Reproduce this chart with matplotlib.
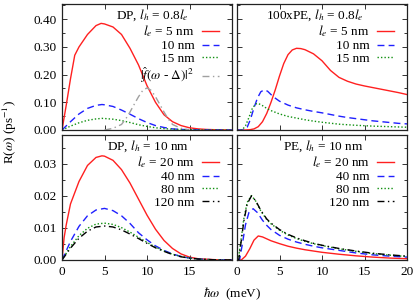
import numpy as np
import matplotlib
matplotlib.use("Agg")
import matplotlib.pyplot as plt
from matplotlib.ticker import MultipleLocator, FormatStrFormatter

plt.rcParams['font.family'] = ['Liberation Serif', 'DejaVu Serif']
plt.rcParams['mathtext.fontset'] = 'stix'
plt.rcParams['font.size'] = 9.5

# ---- top left: DP, l_h = 0.8 l_e
dp_e5_x = [0, 0.5, 1, 1.5, 2, 3, 4, 4.6, 5, 6, 7, 8, 9, 10, 11, 12, 13, 14, 15, 16, 17, 18, 20]
dp_e5_y = [0, 0.09, 0.185, 0.27, 0.30, 0.345, 0.377, 0.385, 0.383, 0.372, 0.345, 0.295, 0.235,
           0.16, 0.10, 0.055, 0.03, 0.016, 0.008, 0.004, 0.002, 0.001, 0]
dp_e10_x = [0, 1, 2, 3, 4, 4.7, 5, 6, 7, 8, 9, 10, 11, 12, 13, 14, 16, 20]
dp_e10_y = [0, 0.03, 0.058, 0.078, 0.089, 0.092, 0.091, 0.085, 0.072, 0.057, 0.041, 0.027,
            0.016, 0.009, 0.004, 0.002, 0.0005, 0]
dp_e15_x = [0, 1, 2, 3, 4, 4.7, 5, 6, 7, 8, 9, 10, 11, 12, 13, 14, 16, 20]
dp_e15_y = [0, 0.014, 0.026, 0.035, 0.040, 0.042, 0.0415, 0.039, 0.034, 0.027, 0.019, 0.013,
            0.008, 0.005, 0.003, 0.0015, 0.0004, 0]
ff_x = [5, 6, 7, 7.5, 8, 8.5, 9, 9.5, 10, 10.5, 11, 11.5, 12, 12.5, 13, 14, 15]
ff_y = [0, 0.006, 0.02, 0.04, 0.065, 0.093, 0.12, 0.143, 0.152, 0.143, 0.12, 0.093, 0.065,
        0.04, 0.02, 0.006, 0]

# ---- top right: 100 x PE, l_h = 0.8 l_e
pe_e5_x = [0, 1, 1.5, 2, 2.5, 3, 3.5, 4, 4.5, 5, 5.5, 6, 6.5, 7, 7.5, 8, 9, 10, 11, 12, 13, 14,
           15, 16, 17, 18, 19, 20]
pe_e5_y = [0, 0, 0.001, 0.004, 0.012, 0.03, 0.06, 0.1, 0.145, 0.195, 0.24, 0.272, 0.289, 0.295,
           0.294, 0.29, 0.275, 0.25, 0.215, 0.19, 0.176, 0.166, 0.159, 0.153, 0.147, 0.141,
           0.135, 0.128]
pe_e10_x = [0, 0.8, 1.2, 1.6, 2, 2.4, 2.8, 3.2, 3.6, 4, 4.5, 5, 6, 7, 8, 9, 10, 11, 12, 13, 14,
            15, 16, 17, 18, 19, 20]
pe_e10_y = [0, 0, 0.01, 0.04, 0.08, 0.115, 0.138, 0.145, 0.14, 0.128, 0.115, 0.104, 0.09, 0.08,
            0.073, 0.067, 0.062, 0.056, 0.05, 0.045, 0.041, 0.037, 0.033, 0.03, 0.027, 0.024,
            0.022]
pe_e15_x = [0, 0.6, 1, 1.4, 1.8, 2.2, 2.5, 3, 3.5, 4, 5, 6, 7, 8, 9, 10, 12, 14, 16, 18, 20]
pe_e15_y = [0, 0, 0.015, 0.045, 0.078, 0.094, 0.096, 0.088, 0.078, 0.07, 0.058, 0.049, 0.043,
            0.037, 0.032, 0.028, 0.021, 0.017, 0.014, 0.012, 0.01]

# ---- bottom left: DP, l_h = 10 nm
dpb_x = [0, 1, 2, 3, 4, 5, 6, 7, 8, 9, 10, 11, 12, 13, 14, 15, 16, 18, 20]
dpb_e20_x = [0, 0.25, 0.5, 1, 1.5, 2, 3, 4, 4.7, 5, 6, 7, 8, 9, 10, 11, 12, 13, 14, 15, 16, 18, 20]
dpb_e20_y = [0, 0.007, 0.011, 0.0175, 0.021, 0.0245, 0.0295, 0.0320, 0.0325, 0.0324, 0.0311,
             0.0282, 0.0240, 0.0190, 0.0140, 0.0096, 0.0061, 0.0036, 0.0019, 0.0009, 0.0004,
             0.0001, 0]
dpb_e40_y = [0, 0.0058, 0.0105, 0.0138, 0.0156, 0.0161, 0.0154, 0.0138, 0.0114, 0.0085, 0.0063,
             0.0044, 0.0030, 0.0019, 0.0011, 0.0006, 0.0003, 0.00005, 0]
dpb_e80_y = [0, 0.0042, 0.0076, 0.0099, 0.0112, 0.0115, 0.0111, 0.0101, 0.0087, 0.0071, 0.0055,
             0.0040, 0.0028, 0.0018, 0.0011, 0.0006, 0.0003, 0.00005, 0]
dpb_e120_y = [0, 0.0037, 0.0068, 0.0090, 0.0103, 0.0106, 0.0103, 0.0094, 0.0081, 0.0067, 0.0052,
              0.0038, 0.0027, 0.0017, 0.0010, 0.0006, 0.0003, 0.00005, 0]

# ---- bottom right: PE, l_h = 10 nm
peb_e20_x = [0, 0.5, 1, 1.5, 2, 2.5, 3, 3.5, 4, 5, 6, 7, 8, 9, 10, 12, 14, 16, 18, 20]
peb_e20_y = [0, 0, 0.0012, 0.0035, 0.0062, 0.0075, 0.0072, 0.0066, 0.0060, 0.0051, 0.0043,
             0.0037, 0.0032, 0.0028, 0.0024, 0.0018, 0.0013, 0.0009, 0.0006, 0.0004]
peb_e40_x = [0, 0.3, 0.6, 1, 1.4, 1.9, 2.4, 3, 3.5, 4, 5, 6, 7, 8, 9, 10, 12, 14, 16, 18, 20]
peb_e40_y = [0, 0, 0.0045, 0.011, 0.0148, 0.0160, 0.0148, 0.0124, 0.0108, 0.0095, 0.0077,
             0.0065, 0.0056, 0.0049, 0.0043, 0.0038, 0.003, 0.0022, 0.0016, 0.0012, 0.0009]
peb_big_x = [0, 0.2, 0.5, 0.8, 1.2, 1.7, 2.2, 2.8, 3.5, 4, 5, 6, 7, 8, 9, 10, 12, 14, 16, 18, 20]
peb_e80_y = [0, 0.001, 0.0068, 0.0128, 0.018, 0.0201, 0.0184, 0.0153, 0.0126, 0.0113, 0.0093,
             0.0078, 0.0067, 0.0058, 0.0051, 0.0045, 0.0035, 0.0027, 0.002, 0.0015, 0.0011]
peb_e120_y = [0, 0, 0.006, 0.012, 0.0175, 0.0200, 0.0185, 0.0155, 0.0128, 0.0115, 0.0095,
              0.0080, 0.0069, 0.0060, 0.0052, 0.0046, 0.0036, 0.0028, 0.0021, 0.0016, 0.0012]

RED = '#ff2020'
BLUE = '#2020ff'
GREEN = '#109010'
GRAY = '#a0a0a0'
BLACK = '#000000'
DASH = (0, (5, 3))
DOT = (0, (1, 1.5))
DASHDOT = (0, (5, 2.5, 1, 2.5))
LW = 1.0

W, H = 415, 305
fig = plt.figure(figsize=(W / 100, H / 100), dpi=100)


def make_ax(l, r, t, b):
    return fig.add_axes([l / W, 1 - b / H, (r - l) / W, (b - t) / H])


ax_tl = make_ax(62, 232, 4, 130)
ax_tr = make_ax(237, 407, 4, 130)
ax_bl = make_ax(62, 232, 135, 260)
ax_br = make_ax(237, 407, 135, 260)

for ax in (ax_tl, ax_tr, ax_bl, ax_br):
    ax.set_xlim(0, 20)
    ax.xaxis.set_major_locator(MultipleLocator(5))
    ax.tick_params(which='both', direction='in', top=True, right=True, labelsize=9.5,
                   width=0.7, color='#333333', pad=4)
    ax.tick_params(which='major', length=3.5)
    ax.tick_params(which='minor', length=2)
    for s in ax.spines.values():
        s.set_linewidth(0.9)
        s.set_color('#222222')

for ax in (ax_tl, ax_tr):
    ax.set_ylim(0, 0.455)
    ax.yaxis.set_major_locator(MultipleLocator(0.1))
    ax.yaxis.set_minor_locator(MultipleLocator(0.05))
    ax.tick_params(labelbottom=False)
for ax in (ax_bl, ax_br):
    ax.set_ylim(0, 0.039)
    ax.yaxis.set_major_locator(MultipleLocator(0.01))
    ax.yaxis.set_minor_locator(MultipleLocator(0.005))
for ax in (ax_tl, ax_bl):
    ax.yaxis.set_major_formatter(FormatStrFormatter('%.2f'))
for ax in (ax_tr, ax_br):
    ax.tick_params(labelleft=False)
ax_bl.set_xticks([0, 5, 10, 15])
ax_bl.set_xticks([20], minor=True)
ax_bl.tick_params(which='minor', axis='x', length=3.5)


def key(ax, title):
    leg = ax.legend(loc='upper right', bbox_to_anchor=(1.0, 0.95), frameon=False,
                    markerfirst=False, handlelength=1.25, handletextpad=0.6,
                    labelspacing=0.05, borderaxespad=0.6, fontsize=9.5)
    ax.text(0.745, 0.91, title, transform=ax.transAxes, ha='right', va='center', fontsize=9.5)
    return leg


# top left
ax_tl.plot(dp_e5_x, dp_e5_y, color=RED, lw=LW, label=r'$l_e$ = 5 nm')
ax_tl.plot(dp_e10_x, dp_e10_y, color=BLUE, lw=LW, ls=DASH, label='10 nm')
ax_tl.plot(dp_e15_x, dp_e15_y, color=GREEN, lw=LW, ls=DOT, label='15 nm')
ax_tl.plot(ff_x, ff_y, color=GRAY, lw=LW, ls=DASHDOT, label=r'$|\hat{f}(\omega$ - $\Delta)|^2$')
key(ax_tl, r'DP, $l_h$ = 0.8$l_e$')

# top right
ax_tr.plot(pe_e5_x, pe_e5_y, color=RED, lw=LW, label=r'$l_e$ = 5 nm')
ax_tr.plot(pe_e10_x, pe_e10_y, color=BLUE, lw=LW, ls=DASH, label='10 nm')
ax_tr.plot(pe_e15_x, pe_e15_y, color=GREEN, lw=LW, ls=DOT, label='15 nm')
key(ax_tr, r'100xPE, $l_h$ = 0.8$l_e$')

# bottom left
ax_bl.plot(dpb_e20_x, dpb_e20_y, color=RED, lw=LW, label=r'$l_e$ = 20 nm')
ax_bl.plot(dpb_x, dpb_e40_y, color=BLUE, lw=LW, ls=DASH, label='40 nm')
ax_bl.plot(dpb_x, dpb_e80_y, color=GREEN, lw=LW, ls=DOT, label='80 nm')
ax_bl.plot(dpb_x, dpb_e120_y, color=BLACK, lw=LW, ls=DASHDOT, label='120 nm')
key(ax_bl, r'DP, $l_h$ = 10 nm')

# bottom right
ax_br.plot(peb_e20_x, peb_e20_y, color=RED, lw=LW, label=r'$l_e$ = 20 nm')
ax_br.plot(peb_e40_x, peb_e40_y, color=BLUE, lw=LW, ls=DASH, label='40 nm')
ax_br.plot(peb_big_x, peb_e80_y, color=GREEN, lw=LW, ls=DOT, label='80 nm')
ax_br.plot(peb_big_x, peb_e120_y, color=BLACK, lw=LW, ls=DASHDOT, label='120 nm')
key(ax_br, r'PE, $l_h$ = 10 nm')

fig.text(10 / W, 1 - 132 / H, r'R($\omega$) (ps$^{-1}$)', rotation=90, ha='center', va='center',
         fontsize=9.5)
fig.text(232 / W, 1 - 294 / H, r'$\hbar\omega$  (meV)', ha='center', va='center', fontsize=9.5)

fig.savefig('out.png', dpi=100)
